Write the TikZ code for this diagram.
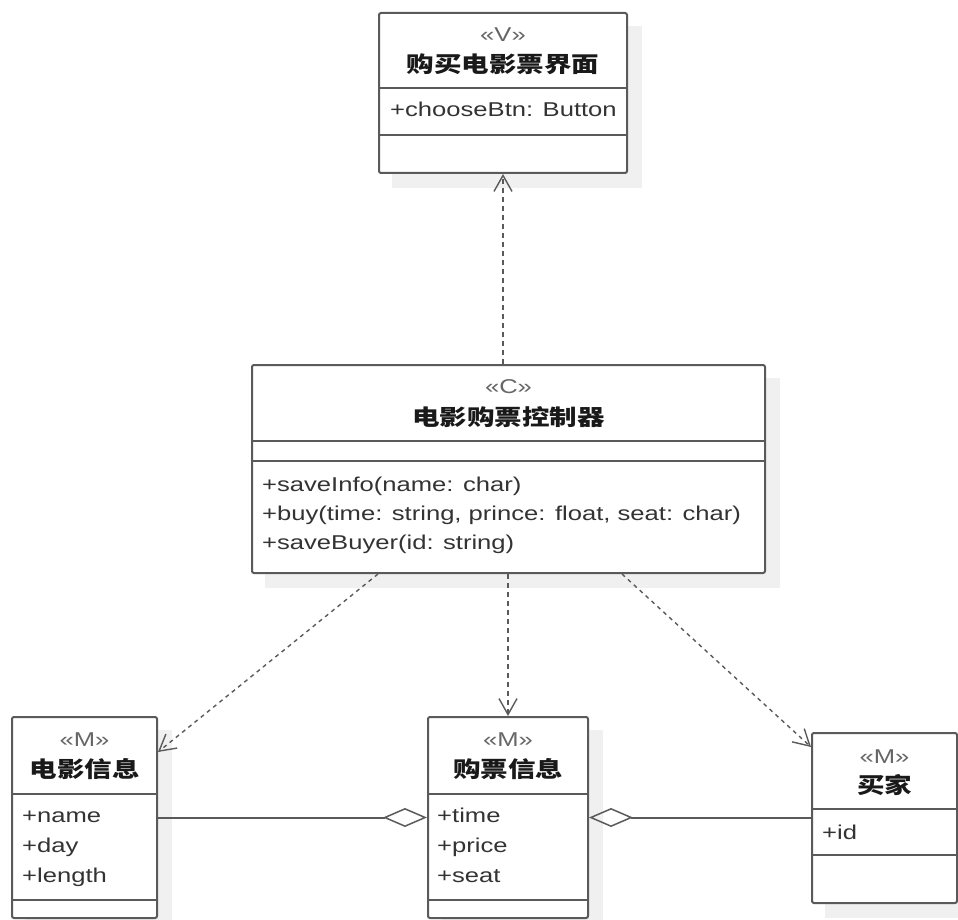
\documentclass[tikz,border=0pt]{standalone}
\usepackage{fontspec}
\setmainfont{Liberation Sans}[FakeStretch=1.28]
\newfontfamily\cjk{Noto Sans CJK SC}[FakeStretch=1.25]
\usetikzlibrary{arrows.meta,backgrounds}
\definecolor{ln}{HTML}{5A5A5A}
\definecolor{tx}{HTML}{333333}
\definecolor{st}{HTML}{666666}
\definecolor{sh}{HTML}{F0F0F0}
\tikzset{
  classbox/.style={draw=ln, line width=2pt, fill=white, rounded corners=2pt, inner sep=0pt},
  stereo/.style={text=st, font=\fontsize{20}{24}\selectfont, inner sep=0pt},
  ctitle/.style={text=black!90, font=\fontsize{22}{26}\selectfont\cjk\bfseries, inner sep=0pt},
  member/.style={text=tx, font=\fontsize{20}{24}\selectfont, inner sep=0pt, anchor=base west},
  divider/.style={draw=ln, line width=2pt},
  dep/.style={draw=ln, line width=1.4pt, dash pattern=on 4pt off 4pt,
    -{Straight Barb[length=16pt,width=18pt,line width=1.4pt]}},
  depv/.style={dep, line width=2.2pt, dash pattern=on 5pt off 4pt},
  agg/.style={draw=ln, line width=2pt},
  aggtip/.style={agg, -{Diamond[open,length=44pt,width=19pt,line width=1.5pt]}},
  aggtail/.style={agg, {Diamond[open,length=44pt,width=19pt,line width=1.5pt]}-}
}
\begin{document}
\begin{tikzpicture}[x=1pt,y=-1pt]
\useasboundingbox (0,0) rectangle (958,920);

% class boxes
\node[classbox, minimum width=248pt, minimum height=160pt] (V) at (503,93) {};
\node[classbox, minimum width=513pt, minimum height=208pt] (C) at (508.5,469) {};
\node[classbox, minimum width=145pt, minimum height=201pt] (M1) at (84.5,817.5) {};
\node[classbox, minimum width=160pt, minimum height=201pt] (M2) at (508,817.5) {};
\node[classbox, minimum width=145pt, minimum height=170pt] (M3) at (884.5,818) {};

\begin{pgfonlayer}{background}
\foreach \n in {V,C,M1,M2,M3}
  \fill[sh] ([shift={(14,14)}]\n.south west) rectangle ([shift={(14,14)}]\n.north east);
\end{pgfonlayer}

% dividers
\draw[divider] (V.west |- 0,88) -- (V.east |- 0,88);
\draw[divider] (V.west |- 0,135) -- (V.east |- 0,135);
\draw[divider] (C.west |- 0,441) -- (C.east |- 0,441);
\draw[divider] (C.west |- 0,461) -- (C.east |- 0,461);
\draw[divider] (M1.west |- 0,794) -- (M1.east |- 0,794);
\draw[divider] (M1.west |- 0,900) -- (M1.east |- 0,900);
\draw[divider] (M2.west |- 0,794) -- (M2.east |- 0,794);
\draw[divider] (M2.west |- 0,900) -- (M2.east |- 0,900);
\draw[divider] (M3.west |- 0,809) -- (M3.east |- 0,809);
\draw[divider] (M3.west |- 0,855) -- (M3.east |- 0,855);

% texts: V
\node[stereo] (Vs) at (503,35) {«V»};
\node[ctitle] (Vt) at (503,64) {购买电影票界面};
\node[member] (Va) at (390,117) {+chooseBtn: Button};

% texts: C
\node[stereo] (Cs) at (508.5,387) {«C»};
\node[ctitle] (Ct) at (508.5,417) {电影购票控制器};
\node[member] (Cm1) at (262,491) {+saveInfo(name: char)};
\node[member] (Cm2) at (262,520) {+buy(time: string, prince: float, seat: char)};
\node[member] (Cm3) at (262,549) {+saveBuyer(id: string)};

% texts: M1
\node[stereo] (M1s) at (84.5,740) {«M»};
\node[ctitle] (M1t) at (84.5,769) {电影信息};
\node[member] (M1a) at (22,822) {+name};
\node[member] (M1b) at (22,852) {+day};
\node[member] (M1c) at (22,882) {+length};

% texts: M2
\node[stereo] (M2s) at (508,740) {«M»};
\node[ctitle] (M2t) at (508,769) {购票信息};
\node[member] (M2a) at (437,822) {+time};
\node[member] (M2b) at (437,852) {+price};
\node[member] (M2c) at (437,882) {+seat};

% texts: M3
\node[stereo] (M3s) at (884.5,757) {«M»};
\node[ctitle] (M3t) at (884.5,785) {买家};
\node[member] (M3a) at (822,839) {+id};

% dependencies
\draw[depv] (C.north -| V.south) -- (V.south);
\draw[depv] (C.south -| M2.north) -- (M2.north);
\draw[dep] ([xshift=-130.5pt]C.south) -- ([yshift=-36pt]M1.north east);
\draw[dep] ([xshift=113.5pt]C.south) -- ([yshift=-15pt]M3.north west);

% aggregations
\draw[aggtip] (M1.east) -- (M2.west);
\draw[aggtail] (M2.east) -- (M3.west |- M2.east);
\end{tikzpicture}
\end{document}
